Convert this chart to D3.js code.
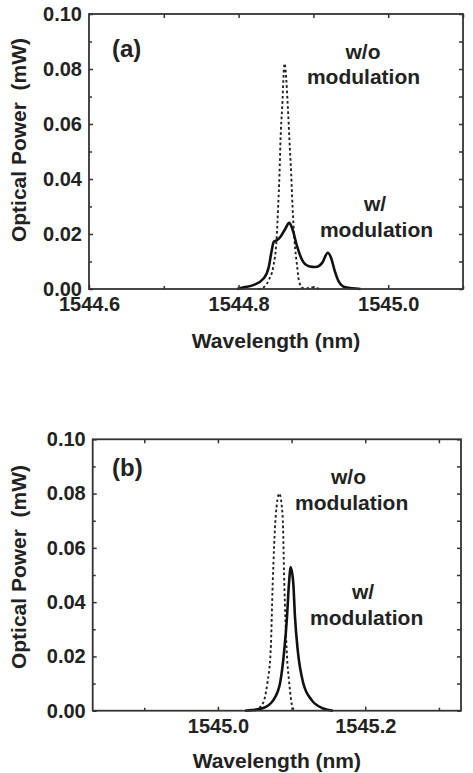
<!DOCTYPE html>
<html lang="en">
<head>
    <meta charset="utf-8">
    <title>Optical spectra</title>
    <script src="https://d3js.org/d3.v7.min.js"></script>
    <style>
        body { margin: 0; background: #fff; }
        text { font-family: "Liberation Sans", Arial, sans-serif; font-weight: bold; fill: #222; }
    </style>
</head>
<body>
<svg width="473" height="773"></svg>
<script>
    // panel (a) - wavelength (nm) / optical power (mW)
    var wlA_wo = [1544.826, 1544.8316, 1544.8404, 1544.8463, 1544.8507, 1544.8529, 1544.8547, 1544.8560, 1544.8583, 1544.8614,
                  1544.8658, 1544.8680, 1544.8703, 1544.8721, 1544.8747, 1544.8783, 1544.8805, 1544.8850, 1544.890, 1544.897, 1544.903, 1544.910];
    var pA_wo  = [0, 0.0003, 0.0033, 0.0081, 0.0178, 0.030, 0.042, 0.054, 0.0663, 0.082,
                  0.0663, 0.054, 0.042, 0.030, 0.0178, 0.0081, 0.0033, 0.0004, 0.0002, 0.0007, 0.0004, 0];
    var wlA_w  = [1544.798, 1544.807, 1544.8203, 1544.8337, 1544.8404, 1544.8436, 1544.8471, 1544.8516, 1544.8560, 1544.8627,
                  1544.8676, 1544.8717, 1544.8783, 1544.8850, 1544.8939, 1544.9028, 1544.9118, 1544.9193, 1544.9238, 1544.9282,
                  1544.9340, 1544.9429, 1544.963];
    var pA_w   = [0, 0.0006, 0.0015, 0.0039, 0.0081, 0.013, 0.0172, 0.0178, 0.019, 0.022,
                  0.0241, 0.022, 0.0154, 0.0105, 0.0083, 0.0080, 0.0095, 0.0132, 0.0112, 0.0069,
                  0.0027, 0.0006, 0];

    // panel (b)
    var wlB_wo = [1545.050, 1545.0616, 1545.067, 1545.0716, 1545.0744, 1545.0784, 1545.0833, 1545.0879, 1545.0901, 1545.0934,
                  1545.0969, 1545.1015, 1545.1046];
    var pB_wo  = [0, 0.003, 0.010, 0.022, 0.047, 0.0715, 0.080, 0.0715, 0.047, 0.022,
                  0.010, 0.001, 0];
    var wlB_w  = [1545.0368, 1545.0459, 1545.0616, 1545.0752, 1545.0843, 1545.0901, 1545.0938, 1545.0965, 1545.0988, 1545.1023,
                  1545.1046, 1545.1083, 1545.1159, 1545.1273, 1545.1431, 1545.1562];
    var pB_w   = [0, 0.0002, 0.001, 0.0039, 0.0101, 0.0224, 0.0346, 0.047, 0.0528, 0.047,
                  0.0346, 0.0224, 0.0101, 0.0039, 0.0008, 0];

    var yMajor = [0, 0.02, 0.04, 0.06, 0.08, 0.10];
    var yMinor = [0.01, 0.03, 0.05, 0.07, 0.09];
    var xMajorA = [1544.6, 1544.8, 1545.0];
    var xMinorA = [1544.7, 1544.9, 1545.1];
    var xMajorB = [1545.0, 1545.2];
    var xMinorB = [1544.9, 1545.1, 1545.3];

    var svg = d3.select("svg");

    function panel(o) {
        var x = d3.scaleLinear().domain(o.xdom).range([o.left, o.right]);
        var y = d3.scaleLinear().domain([0, 0.1]).range([o.bottom, o.top]);
        var g = svg.append("g");

        // curves
        var line = d3.line()
            .x(function(d){ return x(d[0]); })
            .y(function(d){ return y(d[1]); })
            .curve(d3.curveMonotoneX);
        g.append("path")
            .attr("d", line(d3.zip(o.wlWo, o.pWo)))
            .attr("fill", "none").attr("stroke", "#222")
            .attr("stroke-width", 1.9).attr("stroke-dasharray", "2.6,2.6");
        g.append("path")
            .attr("d", line(d3.zip(o.wlW, o.pW)))
            .attr("fill", "none").attr("stroke", "#111")
            .attr("stroke-width", 2.6).attr("stroke-linejoin", "round");

        // axes, ticks pointing inward
        function ax(gen, tr, vals, size, fmt, pad) {
            var a = gen.tickValues(vals).tickSize(size).tickPadding(pad || 7);
            if (fmt) a.tickFormat(fmt); else a.tickFormat("");
            var s = g.append("g").attr("transform", tr).call(a);
            s.select(".domain").remove();
            s.selectAll("line").attr("stroke", "#333").attr("stroke-width", 1.5);
            s.selectAll("text").attr("font-size", 20).attr("fill", "#222")
                .attr("font-family", "'Liberation Sans', Arial, sans-serif").attr("font-weight", "bold");
            return s;
        }
        ax(d3.axisLeft(y), "translate(" + o.left + ",0)", yMajor, -4, d3.format(".2f"));
        ax(d3.axisLeft(y), "translate(" + o.left + ",0)", yMinor, -3);
        ax(d3.axisRight(y), "translate(" + o.right + ",0)", yMajor.concat(yMinor), -4);
        ax(d3.axisBottom(x), "translate(0," + o.bottom + ")", o.xMajor, -4, d3.format(".1f"), 8);
        ax(d3.axisBottom(x), "translate(0," + o.bottom + ")", o.xMinor, -3);
        ax(d3.axisTop(x), "translate(0," + o.top + ")", o.xMajor.concat(o.xMinor).filter(function(v){ return v > o.xdom[0] + 0.01; }), -4);

        g.append("rect")
            .attr("x", o.left).attr("y", o.top)
            .attr("width", o.right - o.left).attr("height", o.bottom - o.top)
            .attr("fill", "none").attr("stroke", "#333").attr("stroke-width", 1.8);

        // labels
        g.append("text").attr("x", (o.left + o.right) / 2).attr("y", o.xlabY)
            .attr("text-anchor", "middle").attr("font-size", 21).text("Wavelength (nm)");
        g.append("text").attr("transform", "translate(26," + o.ylabY + ") rotate(-90)")
            .attr("text-anchor", "middle").attr("font-size", 21).style("white-space", "pre")
            .text("Optical Power  (mW)");
        g.append("text").attr("x", 112).attr("y", o.tagY).attr("font-size", 24).text(o.tag);

        o.notes.forEach(function(n){
            g.append("text").attr("x", n[0]).attr("y", n[1])
                .attr("text-anchor", "middle").attr("font-size", 21).text(n[2]);
        });
    }

    panel({
        left: 89, right: 463, top: 14, bottom: 289,
        xdom: [1544.6, 1545.1], xMajor: xMajorA, xMinor: xMinorA,
        wlWo: wlA_wo, pWo: pA_wo, wlW: wlA_w, pW: pA_w,
        xlabY: 348, ylabY: 140, tag: "(a)", tagY: 57,
        notes: [[363, 59, "w/o"], [363.5, 83.5, "modulation"], [375, 211, "w/"], [376.5, 236.5, "modulation"]]
    });

    panel({
        left: 92.7, right: 461, top: 439.3, bottom: 710.7,
        xdom: [1544.83, 1545.33], xMajor: xMajorB, xMinor: xMinorB,
        wlWo: wlB_wo, pWo: pB_wo, wlW: wlB_w, pW: pB_w,
        xlabY: 768, ylabY: 567, tag: "(b)", tagY: 476,
        notes: [[348.5, 484, "w/o"], [351.7, 510, "modulation"], [363, 599, "w/"], [366.7, 625, "modulation"]]
    });
</script>
</body>
</html>
